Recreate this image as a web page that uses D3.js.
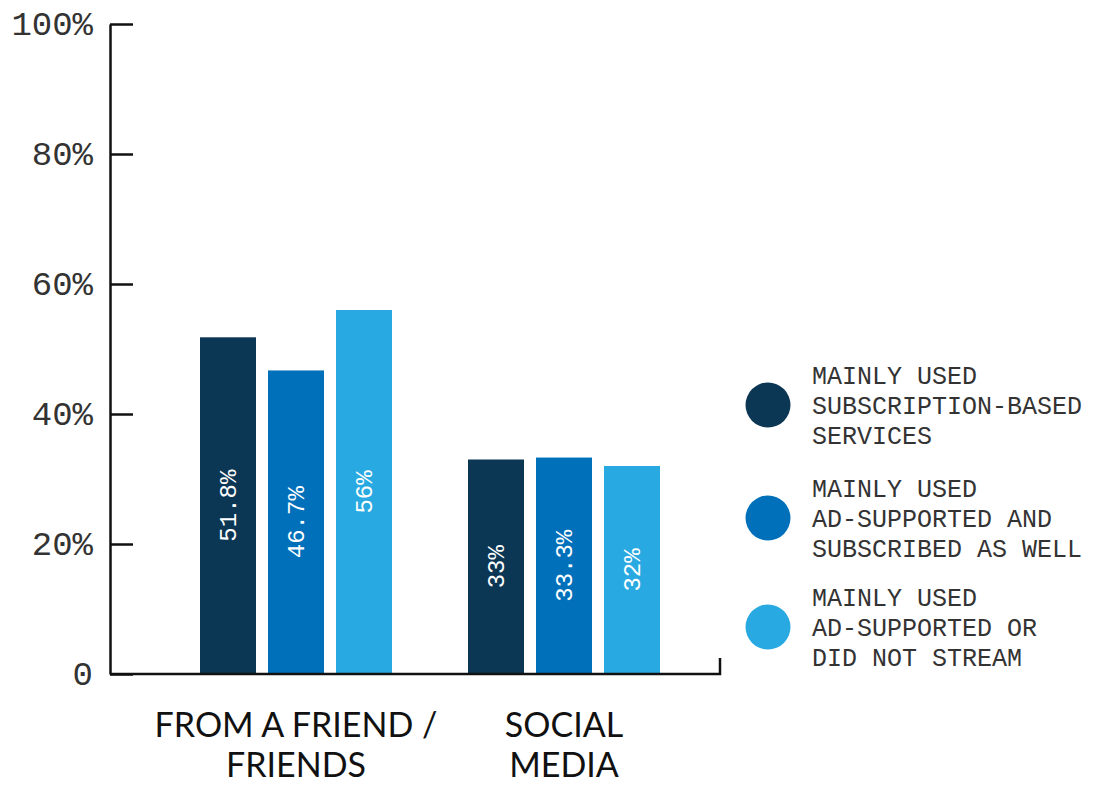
<!DOCTYPE html>
<html>
<head>
<meta charset="utf-8">
<script src="https://cdn.jsdelivr.net/npm/d3@7"></script>
<style>
  html, body { margin: 0; padding: 0; background: #fff; }
  svg { display: block; }
  .mono { font-family: "Liberation Mono", "DejaVu Sans Mono", monospace; }
</style>
</head>
<body>
<svg id="chart" width="1094" height="785"></svg>
<script>
// Where people heard about new music, by streaming habit
const categories = ["FROM A FRIEND / FRIENDS", "SOCIAL MEDIA"];
const categoryLines = [["FROM A FRIEND /", "FRIENDS"], ["SOCIAL", "MEDIA"]];
const seriesNames = ["subscription", "adAndSubscribed", "adOrNone"];
const seriesLabels = [
  ["MAINLY USED", "SUBSCRIPTION-BASED", "SERVICES"],
  ["MAINLY USED", "AD-SUPPORTED AND", "SUBSCRIBED AS WELL"],
  ["MAINLY USED", "AD-SUPPORTED OR", "DID NOT STREAM"]
];
const subscriptionValues = [51.8, 33];
const adAndSubscribedValues = [46.7, 33.3];
const adOrNoneValues = [56, 32];
const yTicks = [0, 20, 40, 60, 80, 100];
const colors = ["#0b3654", "#0070ba", "#29a9e1"];

const seriesValues = [subscriptionValues, adAndSubscribedValues, adOrNoneValues];
const rows = categories.map((c, i) => ({
  category: c,
  values: seriesNames.map((s, j) => ({ key: s, idx: j, value: seriesValues[j][i] }))
}));

const svg = d3.select("#chart");
const axisX0 = 110, axisX1 = 720, yTop = 24, yBottom = 674;

const y = d3.scaleLinear().domain([0, 100]).range([yBottom, yTop]);
const x0 = d3.scaleBand().domain(categories).range([162, 698])
  .paddingInner(76 / 268).paddingOuter(38 / 268);
const x1 = d3.scaleBand().domain(seriesNames).range([0, x0.bandwidth()])
  .paddingInner(12 / 68).paddingOuter(0);

// Bars
const groups = svg.append("g").selectAll("g").data(rows).join("g")
  .attr("transform", d => `translate(${x0(d.category)},0)`);

groups.selectAll("rect").data(d => d.values).join("rect")
  .attr("x", d => x1(d.key))
  .attr("y", d => y(d.value))
  .attr("width", x1.bandwidth())
  .attr("height", d => y(0) - y(d.value))
  .attr("fill", d => colors[d.idx]);

// Value labels, rotated inside the bars
groups.selectAll("text").data(d => d.values).join("text")
  .attr("class", "mono")
  .attr("transform", d => `translate(${x1(d.key) + x1.bandwidth() / 2},${(y(d.value) + y(0)) / 2}) rotate(-90)`)
  .attr("text-anchor", "middle")
  .attr("dy", "0.35em")
  .attr("fill", "#fff")
  .attr("font-size", 24)
  .text(d => d.value + "%");

// Y axis: ticks point into the plot, labels on the left
const yAxis = d3.axisLeft(y).tickValues(yTicks)
  .tickSizeInner(-23).tickSizeOuter(0).tickPadding(17)
  .tickFormat(d => d === 0 ? "0" : d + "%");
const gy = svg.append("g").attr("transform", `translate(${axisX0},0)`).call(yAxis);
gy.select(".domain").attr("stroke", "#111").attr("stroke-width", 2.5);
gy.selectAll(".tick line").attr("stroke", "#111").attr("stroke-width", 2.5);
gy.selectAll(".tick text")
  .attr("class", "mono")
  .attr("font-family", "Liberation Mono, DejaVu Sans Mono, monospace")
  .attr("font-size", 34)
  .attr("fill", "#333");

// X axis baseline with a short end tick
svg.append("path")
  .attr("d", `M${axisX0},${y(0)}H${axisX1}V${y(0) - 16}`)
  .attr("fill", "none")
  .attr("stroke", "#111")
  .attr("stroke-width", 2.5);

// Category labels
const catText = svg.append("g").selectAll("text").data(categories).join("text")
  .attr("x", d => x0(d) + x0.bandwidth() / 2)
  .attr("y", 737)
  .attr("text-anchor", "middle")
  .attr("font-family", "Lato, 'Noto Sans', sans-serif")
  .attr("font-size", 34)
  .attr("fill", "#111");
catText.selectAll("tspan").data((d, i) => categoryLines[i]).join("tspan")
  .attr("x", function () { return this.parentNode.getAttribute("x"); })
  .attr("dy", (d, i) => i === 0 ? 0 : 40)
  .text(d => d);

// Legend
const legendY = [405, 518, 627];
const legend = svg.append("g").selectAll("g").data(seriesNames).join("g")
  .attr("transform", (d, i) => `translate(768,${legendY[i]})`);
legend.append("circle").attr("r", 22.5).attr("fill", (d, i) => colors[i]);
legend.append("text")
  .attr("class", "mono")
  .attr("font-size", 25)
  .attr("fill", "#333")
  .selectAll("tspan").data((d, i) => seriesLabels[i]).join("tspan")
  .attr("x", 44)
  .attr("y", (d, i) => (i - 1) * 30)
  .attr("dy", "0.35em")
  .text(d => d);
</script>
</body>
</html>
